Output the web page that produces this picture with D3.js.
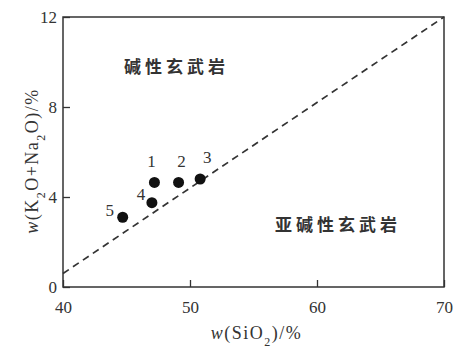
<!DOCTYPE html>
<html>
<head>
<meta charset="utf-8">
<script src="https://cdn.jsdelivr.net/npm/d3@7"></script>
<style>
  body { margin: 0; background: #fff; }
  svg { display: block; }
  .tick text { font-family: "Liberation Serif", "DejaVu Serif", serif; font-size: 17px; fill: #333; }
  .tick line { stroke: #333; stroke-width: 1.3; }
  .domain { display: none; }
</style>
</head>
<body>
<script>
// Chart values
const sio2 = [47.2, 49.1, 50.8, 47.0, 44.7];
const alkali = [4.65, 4.65, 4.8, 3.75, 3.1];
const sampleLabels = ['1', '2', '3', '4', '5'];
const xTicks = [40, 50, 60, 70];
const yTicks = [0, 4, 8, 12];
const divider = [[40, 0.6], [70, 12]];
const fieldNames = ['碱性玄武岩', '亚碱性玄武岩'];
const fieldAnchors = [[44.8, 9.5], [56.7, 2.5]];

const width = 458;
const height = 353;
const margin = { top: 17, right: 14, bottom: 66, left: 63 };

const svg = d3.select('body')
  .append('svg')
  .attr('width', width)
  .attr('height', height);

const x = d3.scaleLinear()
  .domain([40, 70])
  .range([margin.left, width - margin.right]);

const y = d3.scaleLinear()
  .domain([0, 12])
  .range([height - margin.bottom, margin.top]);

// Bottom axis, ticks pointing inward
svg.append('g')
  .attr('transform', `translate(0, ${y(0)})`)
  .call(d3.axisBottom(x).tickValues(xTicks).tickSize(-7).tickPadding(14).tickFormat(d3.format('d')));

// Left axis
svg.append('g')
  .attr('transform', `translate(${x(40)}, 0)`)
  .call(d3.axisLeft(y).tickValues(yTicks).tickSize(-7).tickPadding(6).tickFormat(d3.format('d')));

// Frame
svg.append('rect')
  .attr('x', x(40))
  .attr('y', y(12))
  .attr('width', x(70) - x(40))
  .attr('height', y(0) - y(12))
  .attr('fill', 'none')
  .attr('stroke', '#333')
  .attr('stroke-width', 1.5);

// Dividing line
svg.append('path')
  .datum(divider)
  .attr('d', d3.line().x(d => x(d[0])).y(d => y(d[1])))
  .attr('fill', 'none')
  .attr('stroke', '#333')
  .attr('stroke-width', 1.7)
  .attr('stroke-dasharray', '7,5');

// Samples
const pts = sio2.map((v, i) => ({ x: v, y: alkali[i], label: sampleLabels[i] }));
const labelOffsets = [[-3, 6], [3, 6], [7, 5], [-11, 18], [-13, 20]];

svg.selectAll('.dot')
  .data(pts)
  .enter()
  .append('circle')
  .attr('class', 'dot')
  .attr('cx', d => x(d.x))
  .attr('cy', d => y(d.y))
  .attr('r', 5.5)
  .attr('fill', '#111');

svg.selectAll('.num')
  .data(pts)
  .enter()
  .append('text')
  .attr('class', 'num')
  .attr('x', (d, i) => x(d.x) + labelOffsets[i][0])
  .attr('y', (d, i) => y(d.y) - 21 + labelOffsets[i][1])
  .attr('text-anchor', 'middle')
  .style('font-family', '"Liberation Serif", serif')
  .style('font-size', '17px')
  .attr('fill', '#333')
  .text(d => d.label);

// Field names
svg.selectAll('.field')
  .data(fieldNames)
  .enter()
  .append('text')
  .attr('class', 'field')
  .attr('x', (d, i) => x(fieldAnchors[i][0]))
  .attr('y', (d, i) => y(fieldAnchors[i][1]))
  .style('font-family', '"Noto Sans CJK SC", sans-serif')
  .style('font-size', '17px')
  .style('font-weight', 'bold')
  .style('letter-spacing', '4px')
  .attr('fill', '#333')
  .text(d => d);

// Axis titles
const xTitle = svg.append('text')
  .attr('x', (x(40) + x(70)) / 2 + 3)
  .attr('y', 339)
  .attr('text-anchor', 'middle')
  .style('font-family', '"Liberation Serif", serif')
  .style('font-size', '18px')
  .style('letter-spacing', '1.5px')
  .attr('fill', '#333');
xTitle.append('tspan').style('font-style', 'italic').text('w');
xTitle.append('tspan').text('(SiO');
xTitle.append('tspan').attr('baseline-shift', 'sub').style('font-size', '12px').text('2');
xTitle.append('tspan').text(')/%');

const yTitle = svg.append('text')
  .attr('transform', 'translate(38, 161) rotate(-90)')
  .attr('text-anchor', 'middle')
  .style('font-family', '"Liberation Serif", serif')
  .style('font-size', '18px')
  .style('letter-spacing', '1.5px')
  .attr('fill', '#333');
yTitle.append('tspan').style('font-style', 'italic').text('w');
yTitle.append('tspan').text('(K');
yTitle.append('tspan').attr('baseline-shift', 'sub').style('font-size', '12px').text('2');
yTitle.append('tspan').text('O+Na');
yTitle.append('tspan').attr('baseline-shift', 'sub').style('font-size', '12px').text('2');
yTitle.append('tspan').text('O)/%');
</script>
</body>
</html>
